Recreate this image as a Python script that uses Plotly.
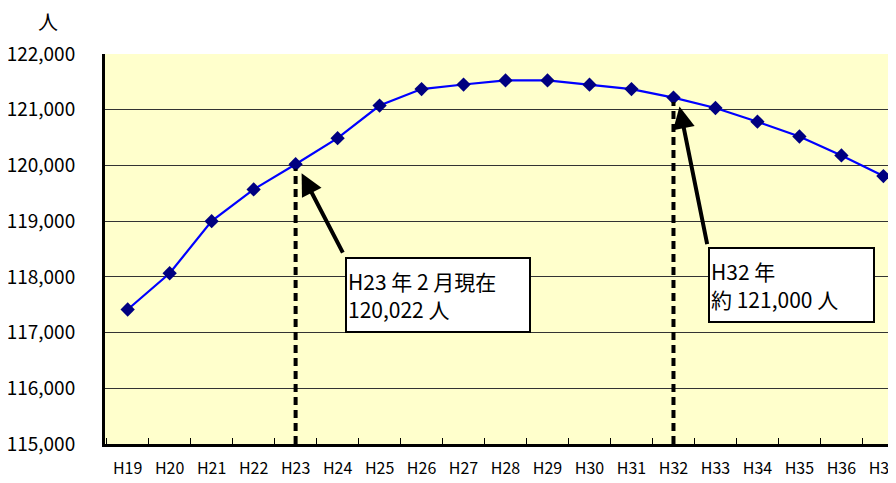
import plotly.graph_objects as go

categories = ["H19", "H20", "H21", "H22", "H23", "H24", "H25", "H26", "H27", "H28",
              "H29", "H30", "H31", "H32", "H33", "H34", "H35", "H36", "H37"]
population = [117414, 118065, 119000, 119570, 120022, 120489, 121074, 121370, 121452, 121526,
              121526, 121450, 121370, 121217, 121031, 120785, 120519, 120180, 119809]
y_tick_vals = [115000, 116000, 117000, 118000, 119000, 120000, 121000, 122000]
y_tick_text = ["115,000", "116,000", "117,000", "118,000", "119,000", "120,000", "121,000", "122,000"]

note1_text = "H23 年 2 月現在<br>120,022 人"
note2_text = "H32 年<br>約 121,000 人"
unit_text = "人"

FONT = "Noto Sans CJK JP"

fig = go.Figure()
fig.add_trace(go.Scatter(
    x=categories, y=population, mode="lines+markers",
    line=dict(color="#0000FF", width=2.2),
    marker=dict(symbol="diamond", size=11, color="#000080"),
    cliponaxis=False,
))

i23 = categories.index("H23")
i32 = categories.index("H32")

# dashed drop lines
for idx in (i23, i32):
    fig.add_shape(type="line", xref="x", yref="y",
                  x0=idx, x1=idx, y0=115000, y1=population[idx] - 80,
                  line=dict(color="black", width=4, dash="8px,5px"), layer="above")

# arrows
fig.add_annotation(x=categories[i23], y=population[i23], xref="x", yref="y",
                   xshift=6, yshift=-9, text="", showarrow=True,
                   ax=42, ay=81, arrowhead=2, arrowsize=1.1, arrowwidth=4,
                   arrowcolor="black", standoff=0, startstandoff=0)
fig.add_annotation(x=categories[i32], y=population[i32], xref="x", yref="y",
                   xshift=6, yshift=-9, text="", showarrow=True,
                   ax=28, ay=139, arrowhead=2, arrowsize=1.1, arrowwidth=4,
                   arrowcolor="black", standoff=0, startstandoff=0)

# text boxes
fig.add_annotation(x=i23 + 1.17, y=118349, xref="x", yref="y",
                   xanchor="left", yanchor="top", text=note1_text, showarrow=False,
                   align="left", bgcolor="white", bordercolor="black", borderwidth=2,
                   width=180, height=70, borderpad=1,
                   font=dict(family=FONT, size=21, color="black"))
fig.add_annotation(x=i32 + 0.82, y=118543, xref="x", yref="y",
                   xanchor="left", yanchor="top", text=note2_text, showarrow=False,
                   align="left", bgcolor="white", bordercolor="black", borderwidth=2,
                   width=161, height=70, borderpad=1,
                   font=dict(family=FONT, size=21, color="black"))

# unit label
fig.add_annotation(x=(48 - 105) / 791, y=(444 - 21) / 390, xref="paper", yref="paper",
                   text=unit_text, showarrow=False, xanchor="center", yanchor="middle",
                   font=dict(family=FONT, size=20, color="black"))

# page body has an 8px margin: shrink figure and margins so the plot area lands
# at x 105..896, y 54..444 in the window
fig.update_layout(
    width=888, height=475,
    margin=dict(l=97, r=0, t=46, b=39),
    paper_bgcolor="white", plot_bgcolor="#FFFFCC",
    showlegend=False,
    font=dict(family=FONT, color="black"),
    xaxis=dict(type="category", range=[-0.54, 18.3], tickson="boundaries",
               ticks="inside", ticklen=6, tickwidth=1, tickcolor="black",
               showgrid=False, showline=True, linecolor="black", linewidth=3,
               tickfont=dict(family=FONT, size=16, color="black"),
               ticklabelstandoff=8, zeroline=False, automargin=False),
    yaxis=dict(range=[115000, 122000], tickvals=y_tick_vals, ticktext=y_tick_text,
               showgrid=True, gridcolor="#333333", gridwidth=1,
               showline=True, linecolor="black", linewidth=3, ticks="",
               tickfont=dict(family=FONT, size=19, color="black"),
               ticklabelstandoff=23, zeroline=False, automargin=False),
)

fig.write_html("out.html")
